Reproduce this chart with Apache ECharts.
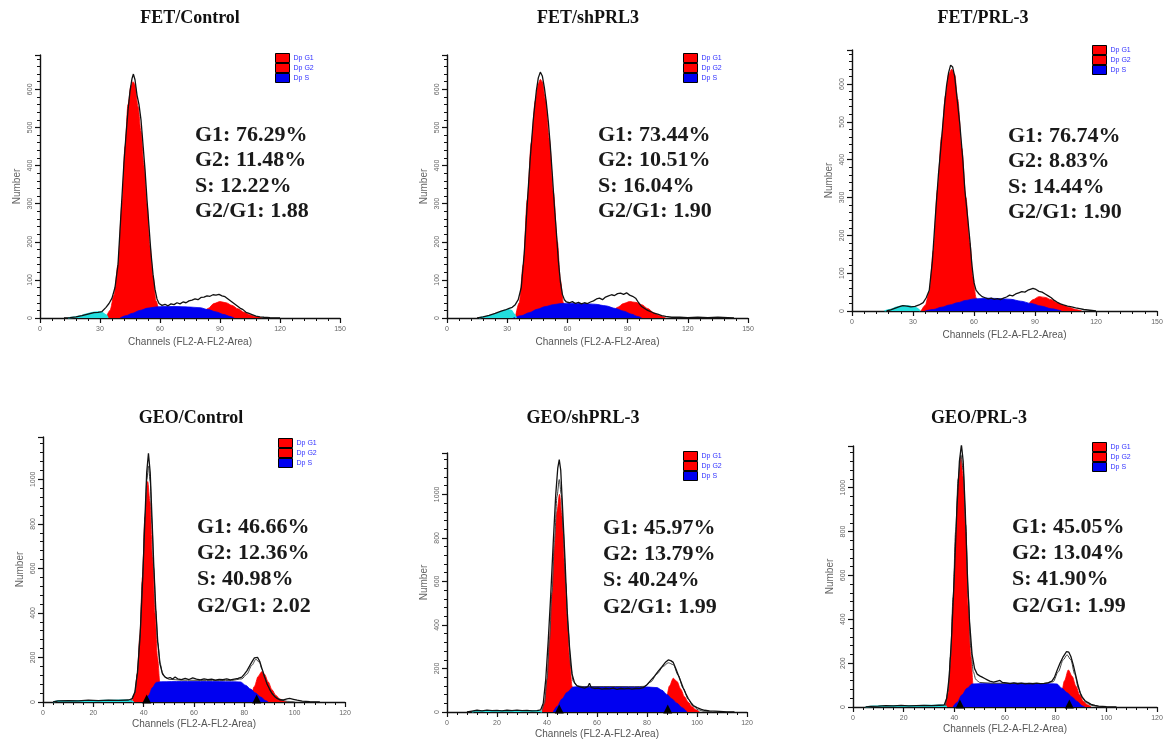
<!DOCTYPE html>
<html><head><meta charset="utf-8">
<script src="https://cdn.jsdelivr.net/npm/echarts@6/dist/echarts.min.js"></script>
<style>html,body{margin:0;padding:0;background:#fff}#chart{width:1166px;height:740px}</style>
</head><body><div id="chart"></div>
<script>
// ---------------- DATA ----------------
const panelTitles = ['FET/Control', 'FET/shPRL3', 'FET/PRL-3', 'GEO/Control', 'GEO/shPRL-3', 'GEO/PRL-3'];
const g1Percent = ['76.29%', '73.44%', '76.74%', '46.66%', '45.97%', '45.05%'];
const g2Percent = ['11.48%', '10.51%', '8.83%', '12.36%', '13.79%', '13.04%'];
const sPercent = ['12.22%', '16.04%', '14.44%', '40.98%', '40.24%', '41.90%'];
const g2g1Ratio = ['1.88', '1.90', '1.90', '2.02', '1.99', '1.99'];
const legendNames = ['Dp G1', 'Dp G2', 'Dp S'];
const xAxisName = 'Channels (FL2-A-FL2-Area)';
const yAxisName = 'Number';
// axis ranges (channels / counts)
const fetChannelMax = 150, fetChannelStep = 30, fetCountMax = 690, fetCountStep = 100;
const geoChannelMax = 120, geoChannelStep = 20, geoCountMax = 1190, geoCountStep = 200;

// [channel, count] pairs
const fetControlDebris = [[14,0],[17,2],[20,5],[23,10],[26,14],[29,16],[31,14],[33,8],[34,0]];
const fetControlG1 = [[33,0],[35,20],[37,60],[39,140],[41,300],[42.5,450],[44,560],[45.5,610],[46.5,620],[47.5,612],[49,555],[50.5,490],[52,400],[53.5,300],[55,190],[56.5,110],[58,45],[60,12],[62,0]];
const fetControlS = [[40,0],[43,6],[46,12],[50,20],[54,26],[58,29],[62,30],[68,30],[74,29],[80,27],[84,22],[88,16],[92,9],[95,4],[97,0]];
const fetControlG2 = [[78,0],[81,10],[84,25],[87,38],[90,43],[93,40],[96,33],[99,24],[102,15],[105,8],[108,3],[111,0]];
const fetControlTotal = [[12,0],[15,1],[18,3],[21,6],[24,10],[27,14],[29,15],[31,17],[33,28],[34.5,38],[36,52],[37.5,80],[39,140],[40,230],[41,320],[42,410],[43,480],[44,545],[45,595],[46,628],[46.7,640],[47.5,625],[48.5,585],[49.5,560],[50.5,520],[51.5,455],[52.5,390],[53.5,310],[54.5,240],[55.5,170],[56.5,115],[57.5,75],[58.5,50],[59.5,38],[61,33],[62.5,36],[64,32],[65.5,37],[67,35],[68.5,40],[70,37],[71.5,42],[73,40],[74.5,45],[76,47],[77.5,50],[79,48],[80.5,54],[82,55],[83.5,58],[85,57],[86.5,61],[88,60],[89.5,62],[91,58],[92.5,56],[94,50],[95.5,44],[97,38],[98.5,32],[100,26],[101.5,22],[103,15],[104.5,12],[106,9],[108,5],[110,3],[112,2],[115,1],[120,0]];

const fetShDebris = [[16,0],[19,3],[22,7],[25,12],[28,18],[30,22],[32,20],[33.5,10],[34.5,0]];
const fetShG1 = [[34,0],[36,40],[38,140],[40,310],[42,460],[44,570],[45.5,615],[46.5,626],[47.5,620],[49,575],[51,470],[53,330],[55,200],[56.5,100],[58,40],[60,10],[62,0]];
const fetShS = [[33,0],[37,6],[41,14],[45,23],[49,30],[53,35],[57,38],[62,39],[68,38],[74,36],[79,32],[84,25],[88,18],[92,10],[95,4],[97,0]];
const fetShG2 = [[79,0],[82,12],[85,28],[88,38],[91,43],[94,41],[97,35],[100,25],[103,14],[106,6],[109,0]];
const fetShTotal = [[15,0],[18,3],[21,7],[24,12],[27,18],[29,21],[31,25],[32.5,28],[34,35],[35.5,48],[37,80],[38.5,170],[40,300],[41.5,420],[43,520],[44.5,595],[45.5,630],[46.5,645],[47.5,635],[48.5,605],[49.5,565],[50.5,515],[51.5,450],[52.5,375],[53.5,295],[54.5,225],[55.5,150],[56.5,95],[57.5,62],[58.5,48],[59.5,42],[61,40],[62.5,43],[64,38],[65.5,41],[67,37],[68.5,40],[70,38],[71.5,42],[73,45],[74.5,50],[76,52],[77.5,48],[79,55],[80.5,58],[82,61],[83.5,59],[85,64],[86.5,65],[88,62],[89.5,66],[91,60],[92.5,57],[94,52],[95.5,40],[97,30],[98.5,25],[100,20],[101.5,17],[103,13],[105,10],[107,6],[109,4],[112,2],[116,2],[120,1],[125,2],[130,1],[135,2],[140,1],[143,0]];

const fetPrlDebris = [[16,0],[19,4],[22,10],[25,14],[28,13],[31,9],[33.5,0]];
const fetPrlG1 = [[34,0],[36,15],[38,50],[40,160],[42,320],[44,460],[46,570],[47.5,625],[49,639],[50.5,625],[52,560],[54,430],[56,300],[58,180],[59.5,90],[61,35],[63,8],[65,0]];
const fetPrlS = [[36,0],[40,4],[44,10],[48,16],[52,22],[56,28],[60,32],[66,34],[72,33],[78,31],[83,26],[88,20],[93,13],[98,6],[103,0]];
const fetPrlG2 = [[83,0],[86,15],[89,30],[92,38],[95,36],[98,30],[101,22],[104,15],[107,9],[110,4],[113,0]];
const fetPrlTotal = [[17,0],[19,3],[21,7],[23,11],[25,14],[27,13],[29,11],[31,12],[33,16],[35,22],[36.5,35],[38,55],[39.5,130],[41,250],[42.5,360],[44,450],[45.5,545],[46.5,595],[47.5,630],[48.5,650],[49.5,645],[50.5,620],[51.5,570],[53,495],[54.5,400],[55.5,320],[57,240],[58,185],[59,120],[60,75],[61,55],[62.5,45],[64,38],[65.5,35],[67,32],[68.5,34],[70,31],[71.5,33],[73,30],[74.5,34],[76,37],[77.5,42],[79,40],[80.5,45],[82,48],[83.5,51],[85,50],[86.5,55],[88,58],[89,60],[90.5,57],[92,52],[93.5,50],[95,45],[96.5,40],[98,35],[99.5,28],[101,23],[102.5,19],[104,16],[106,13],[108,11],[110,8],[112,6],[114,4],[117,2],[120,0]];

const geoControlDebris = [[4,0],[6,4],[10,5],[16,6],[22,6],[28,7],[34,8],[36,0]];
const geoControlG1 = [[35.5,0],[36.5,40],[37.5,130],[38.5,300],[39.5,560],[40.5,830],[41.6,990],[42.5,900],[43.5,650],[44.5,400],[45.5,200],[46.5,80],[47.5,25],[48.5,0]];
const geoControlS = [[40.5,0],[42,30],[43.5,65],[45,88],[47,91],[55,92],[65,92],[75,91],[78.5,90],[80.5,75],[82.5,58],[84.5,40],[86.5,22],[88.5,6],[89.5,0]];
const geoControlG2 = [[81,0],[82.5,25],[84,70],[85.5,115],[86.9,136],[88,125],[89.5,90],[91,55],[92.5,30],[94,14],[95.5,5],[97,0]];
const geoControlTotal = [[4,0],[6,5],[10,6],[14,5],[18,8],[22,6],[26,8],[30,7],[34,9],[35.5,15],[36.5,45],[37.5,130],[38.5,280],[39.5,520],[40.5,820],[41.2,1030],[41.9,1117],[42.6,1030],[43.3,830],[44,620],[44.8,420],[45.6,270],[46.5,170],[47.5,125],[48.5,112],[49.5,106],[50.5,110],[51.5,103],[52.5,112],[53.5,104],[55,100],[56.5,106],[58,101],[59.5,108],[61,103],[62.5,99],[64,104],[65.5,100],[67,103],[68.5,98],[70,102],[71.5,100],[73,104],[74.5,99],[76,103],[77.5,106],[79,112],[80,125],[81,140],[82,160],[83,180],[84,198],[84.6,205],[85.3,200],[86.2,180],[87,150],[88,115],[89,82],[90,58],[91,38],[92,25],[93,16],[94,10],[95.5,9],[97,14],[98,16],[99.5,12],[101,8],[103,4],[106,2],[110,0]];
const geoControlFit = [[35,5],[36.5,40],[37.5,125],[38.5,290],[39.5,540],[40.5,830],[41.3,1000],[41.9,1060],[42.6,990],[43.3,800],[44,600],[44.8,410],[45.6,265],[46.5,175],[47.5,130],[48.5,112],[50,102],[55,98],[65,97],[75,97],[79,104],[81,125],[83,165],[84.6,192],[86,178],[87,148],[88,110],[89.5,70],[91,40],[93,18],[95,8],[97,3],[100,0]];
const geoControlPeaks = [[41.2,0],[84.9,0]];

const geoShDebris = [[10,0],[12,6],[16,5],[20,6],[24,5],[28,6],[32,5],[36,6],[38,0]];
const geoShG1 = [[38,0],[39,40],[40,150],[41,330],[42,540],[43,760],[44,920],[45,1000],[46,900],[47,680],[48,450],[49,250],[50,120],[51,50],[52,10],[53,0]];
const geoShS = [[42.5,0],[44,25],[46,60],[48,90],[50.5,115],[55,117],[65,117],[75,116],[80,115],[84,112],[86,100],[88,80],[90,60],[92,40],[94,20],[96,0]];
const geoShG2 = [[86,0],[87.5,50],[89,120],[90.5,155],[92,140],[93.5,105],[95,70],[96.5,45],[98,25],[99.5,10],[101,0]];
const geoShTotal = [[8,0],[10,4],[12,8],[14,5],[16,9],[18,6],[20,7],[22,5],[24,8],[26,6],[28,9],[30,6],[32,7],[34,5],[36,6],[37.5,10],[38.5,40],[39.5,150],[40.5,330],[41.5,540],[42.5,780],[43.5,1000],[44.3,1120],[44.9,1160],[45.5,1110],[46.3,920],[47.2,700],[48,480],[49,300],[50,175],[51,135],[52,120],[53.5,114],[55,110],[56.3,116],[57,132],[57.7,112],[59,108],[60.5,110],[62,105],[63.5,108],[65,106],[66.5,110],[68,104],[69.5,108],[71,106],[72.5,109],[74,105],[75.5,108],[77,107],[78.5,112],[80,125],[81.5,145],[83,165],[84.5,188],[86,208],[87.5,230],[88.5,239],[89.5,236],[90.5,228],[91.5,200],[92.5,170],[93.5,140],[94.5,110],[95.5,85],[96.5,62],[97.5,44],[98.5,30],[100,20],[101.5,13],[103,8],[105,5],[107,4],[109,3],[112,1],[115,0]];
const geoShFit = [[38,5],[39,40],[40,150],[41,330],[42,550],[43,790],[44,990],[44.9,1068],[45.7,1000],[46.5,830],[47.5,590],[48.5,370],[49.5,210],[50.5,140],[52,120],[55,116],[65,117],[75,116],[79,118],[81.5,138],[84,175],[86.5,210],[88.5,226],[90.5,218],[92.5,168],[94.5,108],[96.5,58],[98.5,26],[100.5,10],[103,3],[106,0]];
const geoShPeaks = [[44.9,0],[88.3,0]];

const geoPrlDebris = [[5,0],[8,3],[14,5],[20,6],[26,6],[32,7],[36,8],[37,0]];
const geoPrlG1 = [[36.5,0],[37.5,60],[38.5,200],[39.5,460],[40.5,750],[41.5,1000],[42.5,1140],[43.5,1050],[44.5,800],[45.5,460],[46.5,230],[47.5,90],[48.5,25],[49.5,0]];
const geoPrlS = [[39.5,0],[41,20],[43,55],[45,85],[47,105],[55,108],[65,108],[75,107],[80.5,105],[82.5,85],[84.5,65],[86.5,45],[88.5,25],[90.5,5],[91.5,0]];
const geoPrlG2 = [[80.5,0],[82,45],[83.5,120],[85,169],[86.5,140],[88,95],[89.5,55],[91,25],[92.5,10],[94,0]];
const geoPrlTotal = [[5,0],[7,3],[10,4],[13,6],[16,5],[19,7],[22,5],[25,6],[28,7],[31,6],[34,8],[36,9],[37,40],[38,140],[39,340],[40,600],[41,900],[42,1120],[42.8,1196],[43.5,1120],[44.3,900],[45.1,620],[46,390],[47,240],[48,175],[49,150],[50,142],[51,136],[52,130],[53,124],[54,118],[55.5,113],[57,118],[58,121],[59,112],[60.5,110],[62,107],[63.5,110],[65,106],[66.5,109],[68,105],[69.5,108],[71,106],[72.5,109],[74,107],[75.5,108],[77,110],[78.5,118],[79.5,135],[80.5,165],[81.7,199],[83,230],[84.3,253],[85.2,250],[86,230],[87,190],[87.8,150],[88.7,105],[89.6,66],[90.5,45],[91.5,30],[92.5,22],[94,12],[95.5,7],[97,4],[100,2],[104,0]];
const geoPrlFit = [[36.5,5],[37.5,70],[38.5,230],[39.5,500],[40.5,800],[41.5,1040],[42.6,1150],[43.5,1080],[44.5,830],[45.5,500],[46.5,270],[47.5,160],[48.5,125],[50,112],[55,108],[65,108],[75,107],[79,115],[81,160],[83,215],[84.5,238],[86,215],[87.5,150],[89,85],[90.5,42],[92,20],[94,8],[97,2],[100,0]];
const geoPrlPeaks = [[42.2,0],[85.4,0]];

// ---------------- LAYOUT ----------------
const layout = [
  {left: 40,  top: 55,  width: 300, height: 263, legendL: 275,  legendT: 53,  statL: 195,  statY: 135, statStep: 25.5, titleX: 190, titleY: 18,  nameGap: 19},
  {left: 447, top: 55,  width: 301, height: 263, legendL: 683,  legendT: 53,  statL: 598,  statY: 135, statStep: 25.5, titleX: 588, titleY: 18,  nameGap: 19},
  {left: 852, top: 50,  width: 305, height: 261, legendL: 1092, legendT: 45,  statL: 1008, statY: 136, statStep: 25.5, titleX: 983, titleY: 18,  nameGap: 19},
  {left: 43,  top: 437, width: 302, height: 265, legendL: 278,  legendT: 438, statL: 197,  statY: 527, statStep: 26.3, titleX: 191, titleY: 418, nameGap: 17},
  {left: 447, top: 453, width: 300, height: 261, legendL: 683,  legendT: 451, statL: 603,  statY: 528, statStep: 26.3, titleX: 583, titleY: 418, nameGap: 17},
  {left: 853, top: 446, width: 304, height: 261, legendL: 1092, legendT: 442, statL: 1012, statY: 527, statStep: 26.3, titleX: 979, titleY: 418, nameGap: 17}
];
const panelData = [
  [fetControlDebris, fetControlG1, fetControlS, fetControlG2, fetControlTotal, null, null],
  [fetShDebris, fetShG1, fetShS, fetShG2, fetShTotal, null, null],
  [fetPrlDebris, fetPrlG1, fetPrlS, fetPrlG2, fetPrlTotal, null, null],
  [geoControlDebris, geoControlG1, geoControlS, geoControlG2, geoControlTotal, geoControlFit, geoControlPeaks],
  [geoShDebris, geoShG1, geoShS, geoShG2, geoShTotal, geoShFit, geoShPeaks],
  [geoPrlDebris, geoPrlG1, geoPrlS, geoPrlG2, geoPrlTotal, geoPrlFit, geoPrlPeaks]
];

const RED = '#ff0000', BLUE = '#0000f0', CYAN = '#22dede';
const axisColor = '#111', labelColor = '#666';
const grids = [], xAxes = [], yAxes = [], series = [], legends = [], graphics = [];

layout.forEach((L, i) => {
  const isFet = i < 3;
  grids.push({left: L.left, top: L.top, width: L.width, height: L.height});
  xAxes.push({
    type: 'value', gridIndex: i, min: 0,
    max: isFet ? fetChannelMax : geoChannelMax,
    interval: isFet ? fetChannelStep : geoChannelStep,
    name: xAxisName, nameLocation: 'middle', nameGap: L.nameGap,
    nameTextStyle: {fontSize: 10, color: '#555', fontFamily: 'Liberation Sans'},
    axisLine: {show: true, onZero: false, lineStyle: {color: axisColor, width: 1.4}},
    axisTick: {show: true, length: 5, lineStyle: {color: axisColor, width: 1.2}},
    minorTick: {show: true, splitNumber: 5, length: 3, lineStyle: {color: axisColor, width: 1}},
    axisLabel: {fontSize: 7, color: labelColor, margin: 8, fontFamily: 'Liberation Sans', formatter: v => String(v)},
    splitLine: {show: false}
  });
  yAxes.push({
    type: 'value', gridIndex: i, min: 0,
    max: isFet ? fetCountMax : geoCountMax,
    interval: isFet ? fetCountStep : geoCountStep,
    name: yAxisName, nameLocation: 'middle', nameGap: 18, nameRotate: 90,
    nameTextStyle: {fontSize: 10, color: '#666', fontFamily: 'Liberation Sans'},
    axisLine: {show: true, onZero: false, lineStyle: {color: axisColor, width: 1.4}},
    axisTick: {show: true, length: 5, lineStyle: {color: axisColor, width: 1.2}},
    minorTick: {show: true, splitNumber: 5, length: 3, lineStyle: {color: axisColor, width: 1}},
    axisLabel: {fontSize: 7, color: labelColor, margin: 6, rotate: 90, showMaxLabel: false, fontFamily: 'Liberation Sans', formatter: v => String(v)},
    splitLine: {show: false}
  });
  const [debris, g1, s, g2, total, fit, peaks] = panelData[i];
  const area = (name, data, color, z) => ({
    type: 'line', name, xAxisIndex: i, yAxisIndex: i, data,
    smooth: 0.3, smoothMonotone: 'x', showSymbol: false, symbol: 'none', silent: true, z,
    itemStyle: {color}, lineStyle: {color, width: 0.8},
    areaStyle: {color, opacity: 1}
  });
  series.push(area('Dp G1', g1, RED, 2));
  series.push(area('Dp G2', g2, RED, 2));
  series.push(area('Dp S', s, BLUE, 3));
  const deb = area('Debris', debris, CYAN, 3);
  deb.lineStyle.width = 1.5;
  series.push(deb);
  if (fit) {
    series.push({
      type: 'line', name: 'Fit', xAxisIndex: i, yAxisIndex: i, data: fit,
      smooth: 0.3, smoothMonotone: 'x', showSymbol: false, symbol: 'none', silent: true, z: 4,
      lineStyle: {color: '#444', width: 1}
    });
  }
  series.push({
    type: 'line', name: 'Data', xAxisIndex: i, yAxisIndex: i, data: total,
    showSymbol: false, symbol: 'none', silent: true, z: 5,
    lineStyle: {color: '#111', width: 1.3}
  });
  if (peaks) {
    series.push({
      type: 'scatter', name: 'Peak', xAxisIndex: i, yAxisIndex: i, data: peaks,
      symbol: 'triangle', symbolSize: [9, 9], symbolOffset: [0, -3], silent: true, clip: false, z: 10,
      itemStyle: {color: '#000', opacity: 1}
    });
  }
  legends.push({
    left: L.legendL, top: L.legendT, orient: 'vertical', padding: 0,
    itemWidth: 14, itemHeight: 9, itemGap: 0, icon: 'rect', selectedMode: false,
    data: legendNames,
    itemStyle: {borderColor: '#000', borderWidth: 1},
    textStyle: {fontSize: 7, color: '#3030ff', fontFamily: 'Liberation Sans', padding: [0, 0, 0, -1]}
  });
  graphics.push({
    type: 'text', x: L.titleX, y: L.titleY, silent: true,
    style: {text: panelTitles[i], font: 'bold 18px "Liberation Serif"', fill: '#111', textAlign: 'center', textVerticalAlign: 'middle'}
  });
  const lines = ['G1: ' + g1Percent[i], 'G2: ' + g2Percent[i], 'S: ' + sPercent[i], 'G2/G1: ' + g2g1Ratio[i]];
  lines.forEach((t, k) => {
    graphics.push({
      type: 'text', x: L.statL, y: L.statY + k * L.statStep, silent: true,
      style: {text: t, font: 'bold 22px "Liberation Serif"', fill: '#1a1a1a', textAlign: 'left', textVerticalAlign: 'middle'}
    });
  });
});

const chart = echarts.init(document.getElementById('chart'), null, {renderer: 'canvas'});
chart.setOption({
  animation: false,
  backgroundColor: '#fff',
  grid: grids, xAxis: xAxes, yAxis: yAxes,
  legend: legends, series, graphic: graphics
});
</script></body></html>
